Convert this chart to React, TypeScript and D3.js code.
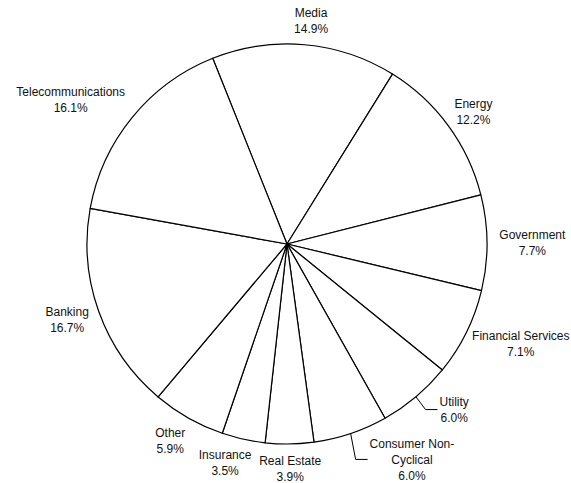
import * as d3 from "d3";
import { useEffect, useRef } from "react";

type Slice = { name: string; value: number };

// clockwise from the top, starting with Media
const sectors = [
  "Media",
  "Energy",
  "Government",
  "Financial Services",
  "Utility",
  "Consumer Non-Cyclical",
  "Real Estate",
  "Insurance",
  "Other",
  "Banking",
  "Telecommunications",
];
const shares = [14.9, 12.2, 7.7, 7.1, 6.0, 6.0, 3.9, 3.5, 5.9, 16.7, 16.1];

// how each label is broken into lines
const labelLines: Record<string, string[]> = {
  "Consumer Non-Cyclical": ["Consumer Non-", "Cyclical"],
};

// labels that excel pushed off their spot (some get a leader line)
const nudges: Record<string, { dx: number; dy: number; leader?: boolean }> = {
  Media: { dx: 4, dy: 0 },
  Telecommunications: { dx: -10, dy: -2 },
  Insurance: { dx: -10, dy: 0 },
  Other: { dx: -5, dy: 1 },
  Utility: { dx: 21, dy: -6, leader: true },
  "Consumer Non-Cyclical": { dx: 44, dy: -5, leader: true },
};

const App = () => {
  const ref = useRef<SVGSVGElement>(null);

  useEffect(() => {
    const width = 571;
    const height = 483;
    const cx = 287;
    const cy = 244;
    const radius = 200;
    const pad = 12;
    const lineH = 16;

    const data: Slice[] = sectors.map((name, i) => ({ name, value: shares[i] }));

    const svg = d3.select(ref.current);
    svg.selectAll("*").remove();
    svg.attr("width", width).attr("height", height);

    const g = svg.append("g").attr("transform", `translate(${cx},${cy})`);

    const pie = d3
      .pie<Slice>()
      .sort(null)
      .startAngle((-21.8 * Math.PI) / 180)
      .endAngle((-21.8 * Math.PI) / 180 + 2 * Math.PI)
      .value((d) => d.value);

    const arc = d3.arc<d3.PieArcDatum<Slice>>().innerRadius(0).outerRadius(radius);
    const rim = d3.arc<d3.PieArcDatum<Slice>>().innerRadius(radius).outerRadius(radius);
    const outer = d3
      .arc<d3.PieArcDatum<Slice>>()
      .innerRadius(radius + pad)
      .outerRadius(radius + pad);

    const arcs = pie(data);

    g.append("g")
      .selectAll("path")
      .data(arcs)
      .join("path")
      .attr("d", arc)
      .attr("fill", "#fff")
      .attr("stroke", "#000")
      .attr("stroke-width", 1.2)
      .attr("stroke-linejoin", "round");

    const labels = g
      .append("g")
      .attr("font-family", "'Liberation Sans', Arial, sans-serif")
      .attr("font-size", 12)
      .attr("fill", "#111")
      .attr("text-anchor", "middle");

    arcs.forEach((d) => {
      const lines = [...(labelLines[d.data.name] ?? [d.data.name]), `${d.data.value.toFixed(1)}%`];
      const text = labels.append("text");
      lines.forEach((l, i) =>
        text.append("tspan").attr("x", 0).attr("y", i * lineH).text(l)
      );

      const w = (text.node() as SVGTextElement).getBBox().width;
      const h = (lines.length - 1) * lineH + 9;
      const a = (d.startAngle + d.endAngle) / 2;
      const [ax, ay] = outer.centroid(d);
      const nudge = nudges[d.data.name] ?? { dx: 0, dy: 0 };
      const bx = ax + (w / 2) * Math.sin(a) + nudge.dx;
      const by = ay - (h / 2) * Math.cos(a) + nudge.dy;

      const first = by - ((lines.length - 1) * lineH) / 2 + 4.3;
      text
        .selectAll("tspan")
        .attr("x", bx)
        .attr("y", (_, i) => first + i * lineH);

      if (nudge.leader) {
        const [px, py] = rim.centroid(d);
        const endX = bx - w / 2 - 2;
        const elbowX = endX - 12;
        g.append("path")
          .attr("d", `M${px},${py}L${elbowX},${by}L${endX},${by}`)
          .attr("fill", "none")
          .attr("stroke", "#000")
          .attr("stroke-width", 1);
      }
    });
  }, []);

  return (
    <svg
      ref={ref}
      style={{ position: "absolute", left: 0, top: 0, background: "#fff" }}
    />
  );
};

export default App;
